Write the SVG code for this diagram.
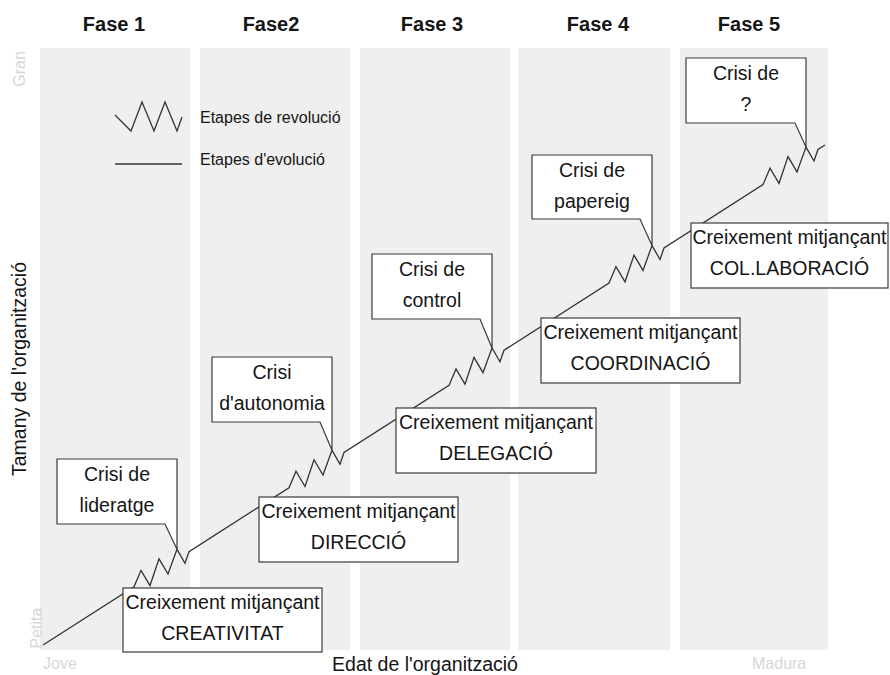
<svg xmlns="http://www.w3.org/2000/svg" width="890" height="675" viewBox="0 0 890 675">
<style>
  text { font-family: "Liberation Sans", Arial, Helvetica, sans-serif; fill: #151515; }
  .title { font-size: 20px; font-weight: bold; text-anchor: middle; }
  .lbl { font-size: 19.5px; text-anchor: middle; }
  .leg { font-size: 16px; }
  .axis { font-size: 19.5px; text-anchor: middle; }
  .ghost { font-size: 16px; fill: #d6d6d6; }
  .col { fill: #efefef; }
  .box { fill: #ffffff; stroke: #3a3a3a; stroke-width: 1.2; }
  .curve { fill: none; stroke: #333333; stroke-width: 1.3; stroke-linejoin: miter; }
</style>
<rect x="0" y="0" width="890" height="675" fill="#ffffff"/>

<g id="background">
  <rect class="col" x="40" y="48" width="150" height="602"/>
  <rect class="col" x="200" y="48" width="150" height="602"/>
  <rect class="col" x="360" y="48" width="150" height="602"/>
  <rect class="col" x="518" y="48" width="152" height="602"/>
  <rect class="col" x="680" y="48" width="148" height="602"/>
  <text class="ghost" transform="translate(25,69) rotate(-90)" text-anchor="middle">Gran</text>
  <text class="ghost" transform="translate(42,628) rotate(-90)" text-anchor="middle">Petita</text>
  <text class="ghost" x="43" y="669">Jove</text>
  <text class="ghost" x="752" y="669">Madura</text>
</g>

<g id="titles">
  <text class="title" x="114" y="31">Fase 1</text>
  <text class="title" x="271" y="31">Fase2</text>
  <text class="title" x="432" y="31">Fase 3</text>
  <text class="title" x="598" y="31">Fase 4</text>
  <text class="title" x="749" y="31">Fase 5</text>
</g>

<g id="legend">
  <polyline class="curve" points="115,115 131,131 142,102 154,131 165,102 177,131 182,117"/>
  <text class="leg" x="200" y="123">Etapes de revolució</text>
  <line class="curve" x1="115" y1="164" x2="182" y2="164"/>
  <text class="leg" x="200" y="165">Etapes d'evolució</text>
</g>

<g id="axes">
  <text class="axis" transform="translate(26,369) rotate(-90)">Tamany de l'organització</text>
  <text class="axis" x="425" y="671">Edat de l'organització</text>
</g>

<g id="connectors">
  <polyline class="curve" points="43,645 134,586.81 141,570.33 150,585.58 159,558.82 168,574.07 177,549.32 185,563.20 189,551.64 289,487.71 296,471.23 305,486.48 314,459.72 323,474.97 332,450.22 340,464.10 344,452.54 449,385.40 456,368.92 465,384.17 474,357.41 483,372.66 492,347.91 500,361.79 504,350.23 609,283.10 616,266.62 625,281.87 634,255.11 643,270.36 652,245.61 660,259.49 664,247.93 763,184.63 770,168.15 779,183.40 788,156.64 797,171.89 806,147.14 814,161.02 818,149.46 825,145"/>
</g>

<g id="creixement-creativitat">
  <rect class="box" x="123" y="588" width="199" height="64"/>
  <text class="lbl" x="222.5" y="609">Creixement mitjançant</text>
  <text class="lbl" x="222.5" y="640">CREATIVITAT</text>
</g>
<g id="creixement-direccio">
  <rect class="box" x="259" y="497" width="199" height="65"/>
  <text class="lbl" x="358.5" y="518">Creixement mitjançant</text>
  <text class="lbl" x="358.5" y="549">DIRECCIÓ</text>
</g>
<g id="creixement-delegacio">
  <rect class="box" x="396" y="408" width="200" height="65"/>
  <text class="lbl" x="496" y="429">Creixement mitjançant</text>
  <text class="lbl" x="496" y="460">DELEGACIÓ</text>
</g>
<g id="creixement-coordinacio">
  <rect class="box" x="541" y="318" width="199" height="65"/>
  <text class="lbl" x="640.5" y="339">Creixement mitjançant</text>
  <text class="lbl" x="640.5" y="370">COORDINACIÓ</text>
</g>
<g id="creixement-collaboracio">
  <rect class="box" x="691" y="223" width="197" height="65"/>
  <text class="lbl" x="789.5" y="244">Creixement mitjançant</text>
  <text class="lbl" x="789.5" y="275">COL.LABORACIÓ</text>
</g>

<g id="crisi-lideratge">
  <path class="box" d="M57,459 H177 V549.3 L165,524 H57 Z"/>
  <text class="lbl" x="117" y="481">Crisi de</text>
  <text class="lbl" x="117" y="512">lideratge</text>
</g>
<g id="crisi-autonomia">
  <path class="box" d="M212,357 H332 V450.2 L320,422 H212 Z"/>
  <text class="lbl" x="272" y="379">Crisi</text>
  <text class="lbl" x="272" y="410">d'autonomia</text>
</g>
<g id="crisi-control">
  <path class="box" d="M372,254 H492 V347.9 L480,319 H372 Z"/>
  <text class="lbl" x="432" y="276">Crisi de</text>
  <text class="lbl" x="432" y="307">control</text>
</g>
<g id="crisi-papereig">
  <path class="box" d="M532,155 H652 V245.6 L640,219 H532 Z"/>
  <text class="lbl" x="592" y="177">Crisi de</text>
  <text class="lbl" x="592" y="208">papereig</text>
</g>
<g id="crisi-interrogant">
  <path class="box" d="M686,58 H806 V147.1 L795,123 H686 Z"/>
  <text class="lbl" x="746" y="80">Crisi de</text>
  <text class="lbl" x="746" y="111">?</text>
</g>
</svg>
